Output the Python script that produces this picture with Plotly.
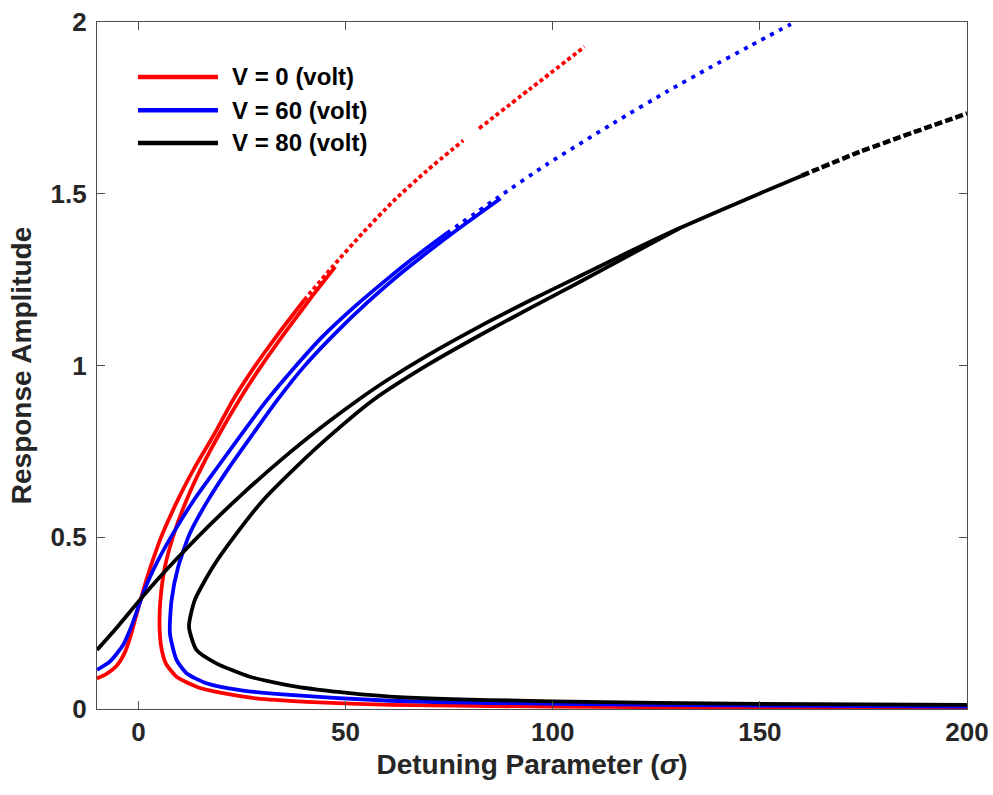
import plotly.graph_objects as go

# ---- frequency-response branches, V = 0 volt (red) ----
red_up_x = [-10.0, -7.7, -5.3, -3.3, -1.7, -0.5, 0.5, 1.9, 3.5, 5.5, 8.0, 10.8, 14.0, 18.4, 22.8, 28.0, 33.8, 40.0]
red_up_y = [0.089, 0.102, 0.125, 0.164, 0.220, 0.274, 0.317, 0.375, 0.434, 0.501, 0.570, 0.640, 0.712, 0.802, 0.899, 0.996, 1.093, 1.190]
red_top_x = [40.0, 46.8, 54.0, 61.5, 69.5, 78.4]
red_top_y = [1.190, 1.287, 1.384, 1.478, 1.566, 1.655]
red_top2_x = [82.2, 94.5, 107.7]
red_top2_y = [1.690, 1.805, 1.928]
red_lo_x = [47.5, 41.2, 35.2, 29.5, 24.3, 19.6, 15.3, 11.6, 8.6, 6.4, 5.3, 5.1, 5.5, 6.6, 9.2, 14.0, 20.4, 28.5, 40.6, 60.7, 100.0, 150.0, 200.0]
red_lo_y = [1.287, 1.190, 1.093, 0.996, 0.899, 0.802, 0.705, 0.608, 0.511, 0.414, 0.317, 0.240, 0.181, 0.133, 0.094, 0.065, 0.046, 0.031, 0.021, 0.012, 0.007, 0.004, 0.003]

# ---- V = 60 volt (blue) ----
blue_up_x = [-10.0, -6.9, -3.7, -1.7, 0.3, 2.3, 4.7, 8.8, 13.6, 19.2, 24.9, 30.5, 37.3, 44.6, 53.0, 60.7, 66.3, 74.4]
blue_up_y = [0.114, 0.138, 0.186, 0.240, 0.308, 0.371, 0.432, 0.520, 0.612, 0.706, 0.800, 0.891, 0.989, 1.086, 1.180, 1.258, 1.312, 1.385]
blue_top_x = [74.4, 86.4, 98.5, 114.6, 127.5, 137.9, 147.6, 157.5]
blue_top_y = [1.385, 1.486, 1.585, 1.705, 1.797, 1.867, 1.930, 1.994]
blue_lo_x = [87.4, 75.8, 68.1, 62.7, 55.4, 47.2, 39.9, 33.5, 27.7, 22.0, 16.8, 12.4, 9.6, 8.0, 7.6, 9.2, 11.6, 16.4, 24.5, 36.5, 60.7, 100.0, 150.0, 200.0]
blue_lo_y = [1.486, 1.385, 1.314, 1.262, 1.185, 1.090, 0.996, 0.899, 0.802, 0.705, 0.608, 0.511, 0.414, 0.317, 0.220, 0.143, 0.104, 0.075, 0.055, 0.041, 0.024, 0.015, 0.010, 0.007]

# ---- V = 80 volt (black) ----
black_up_x = [-10.0, -5.3, 0.3, 5.0, 10.0, 17.0, 25.0, 35.0, 45.0, 52.6, 60.0, 70.0, 82.4, 95.0, 106.5, 118.0, 130.7, 150.0, 160.0]
black_up_y = [0.172, 0.236, 0.317, 0.382, 0.447, 0.533, 0.625, 0.731, 0.828, 0.896, 0.957, 1.031, 1.114, 1.192, 1.260, 1.328, 1.400, 1.501, 1.552]
black_top_x = [160.0, 174.1, 200.0]
black_top_y = [1.552, 1.622, 1.734]
black_lo_x = [130.7, 118.0, 106.5, 95.0, 82.4, 70.0, 56.6, 46.2, 38.1, 30.1, 23.7, 18.0, 13.6, 12.2, 14.0, 18.8, 26.9, 38.1, 51.0, 60.7, 100.0, 150.0, 200.0]
black_lo_y = [1.400, 1.318, 1.243, 1.170, 1.088, 1.003, 0.899, 0.795, 0.705, 0.608, 0.511, 0.414, 0.317, 0.240, 0.172, 0.133, 0.094, 0.065, 0.046, 0.036, 0.022, 0.015, 0.012]

legend_labels = ["V = 0 (volt)", "V = 60 (volt)", "V = 80 (volt)"]
colors = ["#ff0000", "#0000ff", "#000000"]

x_ticks = [0, 50, 100, 150, 200]
y_ticks = [0, 0.5, 1, 1.5, 2]
y_ticktext = ["0", "0.5", "1", "1.5", "2"]

FONT = "Liberation Sans, Arial, Helvetica, sans-serif"
LW = 3.8

fig = go.Figure()


def add(x, y, color, dash="solid", width=LW):
    fig.add_trace(go.Scatter(
        x=x, y=y, mode="lines", showlegend=False, hoverinfo="skip",
        line=dict(color=color, width=width, dash=dash, shape="spline", smoothing=0.6),
    ))


# red
add(red_lo_x, red_lo_y, colors[0])
add(red_up_x, red_up_y, colors[0])
add(red_top_x, red_top_y, colors[0], dash="4px,3px")
add(red_top2_x, red_top2_y, colors[0], dash="4px,3px")
# blue
add(blue_lo_x, blue_lo_y, colors[1])
add(blue_up_x, blue_up_y, colors[1])
add(blue_top_x, blue_top_y, colors[1], dash="4px,6px")
# black
add(black_lo_x, black_lo_y, colors[2])
add(black_up_x, black_up_y, colors[2])
add(black_top_x, black_top_y, colors[2], dash="8px,3px", width=4.5)

# legend drawn as long line samples with text labels
shapes = []
annotations = []
leg_rows = [0.920, 0.8715, 0.824]
for lab, col, yy in zip(legend_labels, colors, leg_rows):
    shapes.append(dict(type="line", xref="paper", yref="paper", x0=0.0471, x1=0.1391,
                       y0=yy, y1=yy, line=dict(color=col, width=4.5)))
    annotations.append(dict(xref="paper", yref="paper", x=0.1526, y=yy, xanchor="left",
                            yanchor="middle", text=lab, showarrow=False,
                            font=dict(family=FONT, size=24, color="black", weight="bold")))

axis_common = dict(
    showline=True, mirror="ticks", linecolor="#4d4d4d", linewidth=1.2,
    ticks="inside", ticklen=8, tickcolor="#4d4d4d", tickwidth=1.2,
    showgrid=False, zeroline=False,
    tickfont=dict(family=FONT, size=26, color="#262626", weight="bold"),
)

fig.update_layout(
    width=993, height=795,
    margin=dict(l=97, r=26, t=22, b=86),
    paper_bgcolor="white", plot_bgcolor="white",
    shapes=shapes, annotations=annotations,
    xaxis=dict(range=[-10, 200], tickvals=x_ticks, **axis_common,
               title=dict(text="Detuning Parameter (<i>σ</i>)", standoff=8,
                          font=dict(family=FONT, size=28, color="#262626", weight="bold"))),
    yaxis=dict(range=[0, 2], tickvals=y_ticks, ticktext=y_ticktext, ticklabelstandoff=4,
               **axis_common,
               title=dict(text="Response Amplitude", standoff=10,
                          font=dict(family=FONT, size=28, color="#262626", weight="bold"))),
)
fig.update_xaxes(automargin=False)
fig.update_yaxes(automargin=False)

fig.write_html("out.html")
